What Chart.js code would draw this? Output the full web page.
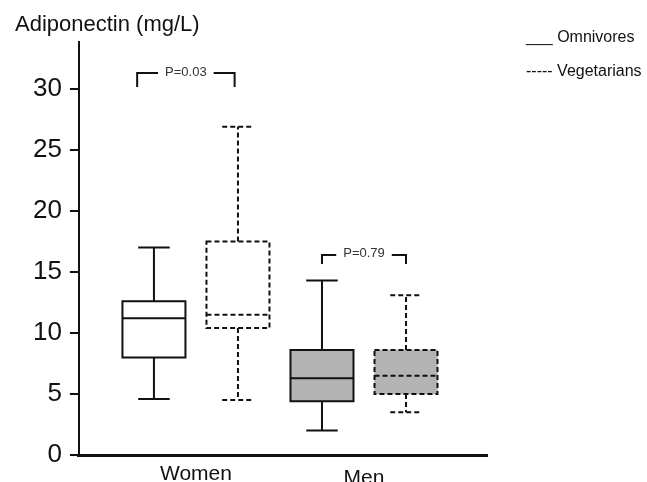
<!DOCTYPE html>
<html>
<head>
<meta charset="utf-8">
<script src="https://cdn.jsdelivr.net/npm/chart.js@4.4.1/dist/chart.umd.min.js"></script>
<style>
  html, body { margin: 0; padding: 0; background: #fff; }
</style>
</head>
<body>
<canvas id="boxChart" width="647" height="482"></canvas>
<script>
const groups = ['Women', 'Men'];
const diets = ['Omnivores', 'Vegetarians'];

// five-number summaries, one value per group
const omniMin = [4.6, 2.0];
const omniQ1 = [8.0, 4.4];
const omniMedian = [11.2, 6.3];
const omniQ3 = [12.6, 8.6];
const omniMax = [17.0, 14.3];

const vegMin = [4.5, 3.5];
const vegQ1 = [10.4, 5.0];
const vegMedian = [11.5, 6.5];
const vegQ3 = [17.5, 8.6];
const vegMax = [26.9, 13.1];

const yTicks = [0, 5, 10, 15, 20, 25, 30];

// p-value brackets (x in box-position units, y in mg/L)
const pLabels = ['P=0.03', 'P=0.79'];
const pLevel = [31.3, 16.4];
const pFrom = [0.8, 3.0];
const pTo = [1.96, 4.0];

const FONT = '"Liberation Sans", Arial, sans-serif';
const boxFill = ['#ffffff', '#b3b3b3'];
const bracketDrop = [14, 9];

const series = [
  { name: diets[0], min: omniMin, q1: omniQ1, med: omniMedian, q3: omniQ3, max: omniMax, dash: [] },
  { name: diets[1], min: vegMin, q1: vegQ1, med: vegMedian, q3: vegQ3, max: vegMax, dash: [5, 3] }
];

// box position on the x axis: omnivores left, vegetarians right, per group
const boxPos = (gi, si) => gi * 2 + si + 1;

const boxDetails = {
  id: 'boxDetails',
  afterDatasetsDraw(chart) {
    const c = chart.ctx;
    const xs = chart.scales.x;
    const ys = chart.scales.y;
    const area = chart.chartArea;

    series.forEach((s, si) => {
      chart.getDatasetMeta(si).data.forEach((bar, gi) => {
        const xc = bar.x, half = bar.width / 2;
        const top = ys.getPixelForValue(s.q3[gi]);
        const bot = ys.getPixelForValue(s.q1[gi]);
        const med = ys.getPixelForValue(s.med[gi]);
        const hi = ys.getPixelForValue(s.max[gi]);
        const lo = ys.getPixelForValue(s.min[gi]);
        c.save();
        c.strokeStyle = '#111';
        c.lineWidth = 2;
        c.setLineDash(s.dash);
        c.beginPath();
        c.rect(xc - half, top, half * 2, bot - top);
        c.moveTo(xc - half, med); c.lineTo(xc + half, med);
        c.moveTo(xc, top); c.lineTo(xc, hi);
        c.moveTo(xc - half / 2, hi); c.lineTo(xc + half / 2, hi);
        c.moveTo(xc, bot); c.lineTo(xc, lo);
        c.moveTo(xc - half / 2, lo); c.lineTo(xc + half / 2, lo);
        c.stroke();
        c.restore();
      });
    });

    // p-value brackets
    c.save();
    c.font = '13px ' + FONT;
    c.textAlign = 'center';
    c.textBaseline = 'middle';
    pLabels.forEach((txt, i) => {
      const x1 = xs.getPixelForValue(pFrom[i]);
      const x2 = xs.getPixelForValue(pTo[i]);
      const y = ys.getPixelForValue(pLevel[i]);
      const mid = (x1 + x2) / 2;
      const tw = c.measureText(txt).width;
      c.strokeStyle = '#111';
      c.lineWidth = 2;
      c.beginPath();
      c.moveTo(x1, y + bracketDrop[i]); c.lineTo(x1, y); c.lineTo(mid - tw / 2 - 7, y);
      c.moveTo(mid + tw / 2 + 7, y); c.lineTo(x2, y); c.lineTo(x2, y + bracketDrop[i]);
      c.stroke();
      c.fillStyle = '#333';
      c.fillText(txt, mid, y - 1);
    });
    c.restore();

    // group labels under the axis
    c.save();
    c.font = '21px ' + FONT;
    c.fillStyle = '#111';
    c.textAlign = 'center';
    c.textBaseline = 'alphabetic';
    groups.forEach((g, gi) => {
      const x = xs.getPixelForValue((boxPos(gi, 0) + boxPos(gi, 1)) / 2);
      c.fillText(g, x, area.bottom + 25 + gi * 4);
    });
    c.restore();

    // axis title and legend
    c.save();
    c.fillStyle = '#111';
    c.textAlign = 'left';
    c.textBaseline = 'alphabetic';
    c.font = '22px ' + FONT;
    c.fillText('Adiponectin (mg/L)', 15, 31);
    c.font = '16px ' + FONT;
    c.fillText('___ ' + diets[0], 526, 42);
    c.fillText('----- ' + diets[1], 526, 76);
    c.restore();
  }
};

new Chart(document.getElementById('boxChart'), {
  type: 'bar',
  data: {
    datasets: series.map((s, si) => ({
      label: s.name,
      data: groups.map((g, gi) => ({ x: boxPos(gi, si), y: [s.q1[gi], s.q3[gi]] })),
      backgroundColor: groups.map((g, gi) => boxFill[gi]),
      borderWidth: 0,
      barThickness: 63,
      grouped: false
    }))
  },
  options: {
    responsive: false,
    animation: false,
    layout: { padding: { left: 25, top: 42, right: 160, bottom: 27 } },
    plugins: {
      legend: { display: false },
      tooltip: { enabled: false }
    },
    scales: {
      x: {
        type: 'linear',
        min: 0.107,
        max: 4.964,
        offset: false,
        grid: { display: false, drawTicks: false },
        ticks: { display: false },
        border: { display: true, color: '#111', width: 3 }
      },
      y: {
        min: 0,
        max: 33.85,
        afterBuildTicks: (scale) => { scale.ticks = yTicks.map(v => ({ value: v })); },
        grid: { drawOnChartArea: false, drawTicks: true, tickLength: 9, color: '#111', lineWidth: 2 },
        border: { display: true, color: '#111', width: 2 },
        ticks: { color: '#111', padding: 8, font: { size: 26, family: FONT } }
      }
    }
  },
  plugins: [boxDetails]
});
</script>
</body>
</html>
